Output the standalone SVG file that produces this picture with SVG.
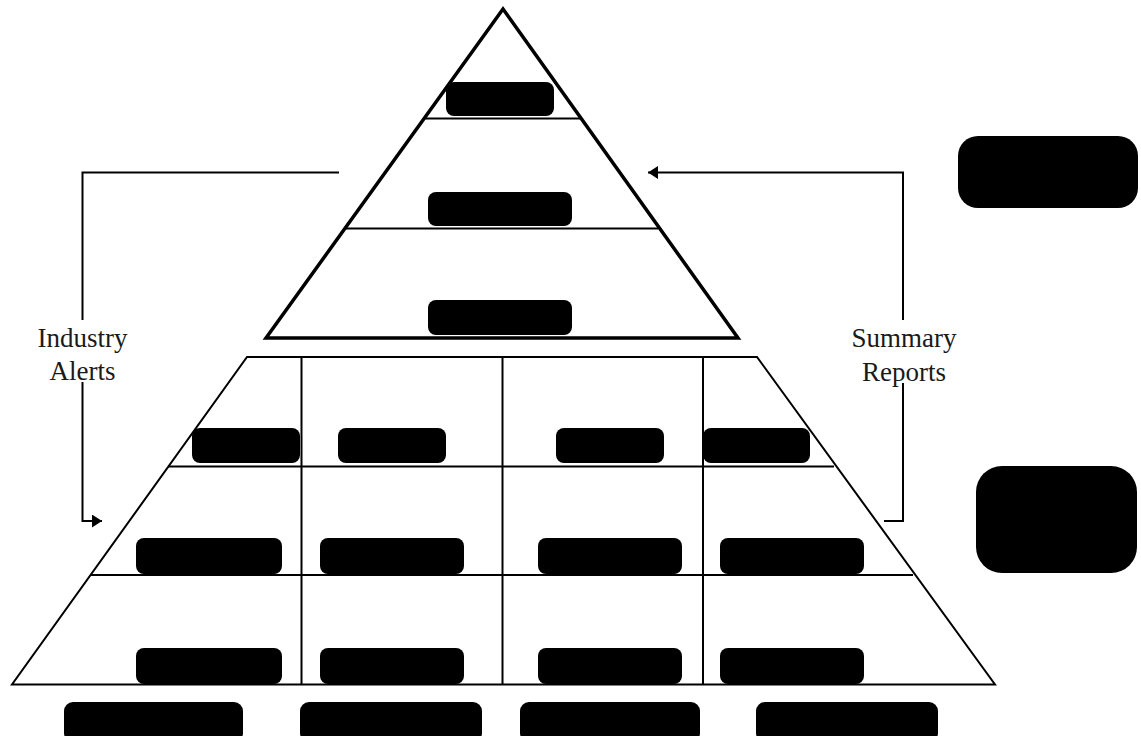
<svg xmlns="http://www.w3.org/2000/svg" width="1141" height="736" viewBox="0 0 1141 736">
  <style>
    .tri { fill: none; stroke: #000; stroke-width: 3.5; stroke-linejoin: miter; }
    .grid { fill: none; stroke: #000; stroke-width: 2; }
    .box { fill: #000; }
    .conn { fill: none; stroke: #000; stroke-width: 2; }
    .lbl { font-family: "Liberation Serif", "Times New Roman", serif; font-size: 27px; fill: #1a1a1a; text-anchor: middle; }
  </style>
  <defs>
    <marker id="arrow" viewBox="0 0 10 13" refX="10" refY="6.5" markerWidth="10" markerHeight="13" markerUnits="userSpaceOnUse" orient="auto">
      <path d="M0,0 L10,6.5 L0,13 Z" fill="#000"/>
    </marker>
  </defs>
  <rect width="1141" height="736" fill="#fff"/>

  <!-- upper pyramid -->
  <g id="upper-pyramid">
    <polygon class="tri" points="503,9 266,338 738,338"/>
    <line class="grid" x1="425" y1="118.5" x2="580" y2="118.5"/>
    <line class="grid" x1="346" y1="228.5" x2="658" y2="228.5"/>
  </g>
  <g id="upper-tier-1"><rect class="box" x="446" y="82" width="108" height="34" rx="8"/></g>
  <g id="upper-tier-2"><rect class="box" x="428" y="192" width="144" height="34" rx="8"/></g>
  <g id="upper-tier-3"><rect class="box" x="428" y="300" width="144" height="35" rx="8"/></g>

  <!-- lower pyramid (trapezoid with grid) -->
  <g id="lower-pyramid">
    <polygon class="grid" points="247,357 757,357 995,684.5 12,684.5"/>
    <line class="grid" x1="168" y1="466.5" x2="834" y2="466.5"/>
    <line class="grid" x1="90" y1="575" x2="913" y2="575"/>
    <line class="grid" x1="301.5" y1="357" x2="301.5" y2="684.5"/>
    <line class="grid" x1="502.5" y1="357" x2="502.5" y2="684.5"/>
    <line class="grid" x1="703" y1="357" x2="703" y2="684.5"/>
  </g>

  <!-- lower pyramid cells, row 1 -->
  <g id="cell-1-1"><rect class="box" x="192" y="428" width="108" height="35" rx="8"/></g>
  <g id="cell-1-2"><rect class="box" x="338" y="428" width="108" height="35" rx="8"/></g>
  <g id="cell-1-3"><rect class="box" x="556" y="428" width="108" height="35" rx="8"/></g>
  <g id="cell-1-4"><rect class="box" x="703" y="428" width="107" height="35" rx="8"/></g>
  <!-- row 2 -->
  <g id="cell-2-1"><rect class="box" x="136" y="538" width="146" height="36" rx="8"/></g>
  <g id="cell-2-2"><rect class="box" x="320" y="538" width="144" height="36" rx="8"/></g>
  <g id="cell-2-3"><rect class="box" x="538" y="538" width="144" height="36" rx="8"/></g>
  <g id="cell-2-4"><rect class="box" x="720" y="538" width="144" height="36" rx="8"/></g>
  <!-- row 3 -->
  <g id="cell-3-1"><rect class="box" x="136" y="648" width="146" height="36" rx="8"/></g>
  <g id="cell-3-2"><rect class="box" x="320" y="648" width="144" height="36" rx="8"/></g>
  <g id="cell-3-3"><rect class="box" x="538" y="648" width="144" height="36" rx="8"/></g>
  <g id="cell-3-4"><rect class="box" x="720" y="648" width="144" height="36" rx="8"/></g>

  <!-- column captions under the base -->
  <g id="column-1"><rect class="box" x="64" y="702" width="179" height="40" rx="9"/></g>
  <g id="column-2"><rect class="box" x="300" y="702" width="182" height="40" rx="9"/></g>
  <g id="column-3"><rect class="box" x="520" y="702" width="180" height="40" rx="9"/></g>
  <g id="column-4"><rect class="box" x="756" y="702" width="182" height="40" rx="9"/></g>

  <!-- side panels -->
  <g id="side-upper"><rect class="box" x="958" y="136" width="180" height="72" rx="20"/></g>
  <g id="side-lower"><rect class="box" x="976" y="466" width="161" height="107" rx="26"/></g>

  <!-- feedback loops -->
  <g id="connectors">
    <polyline class="conn" points="339,172.5 82.5,172.5 82.5,320"/>
    <polyline class="conn" points="82.5,382 82.5,521 102,521" marker-end="url(#arrow)"/>
    <polyline class="conn" points="903,320 903,172.5 648,172.5" marker-end="url(#arrow)"/>
    <polyline class="conn" points="903,383 903,521 884,521"/>
  </g>

  <g id="label-alerts">
    <text class="lbl" x="82.5" y="347">Industry</text>
    <text class="lbl" x="82.5" y="380">Alerts</text>
  </g>
  <g id="label-reports">
    <text class="lbl" x="904" y="347">Summary</text>
    <text class="lbl" x="904" y="381">Reports</text>
  </g>
</svg>
